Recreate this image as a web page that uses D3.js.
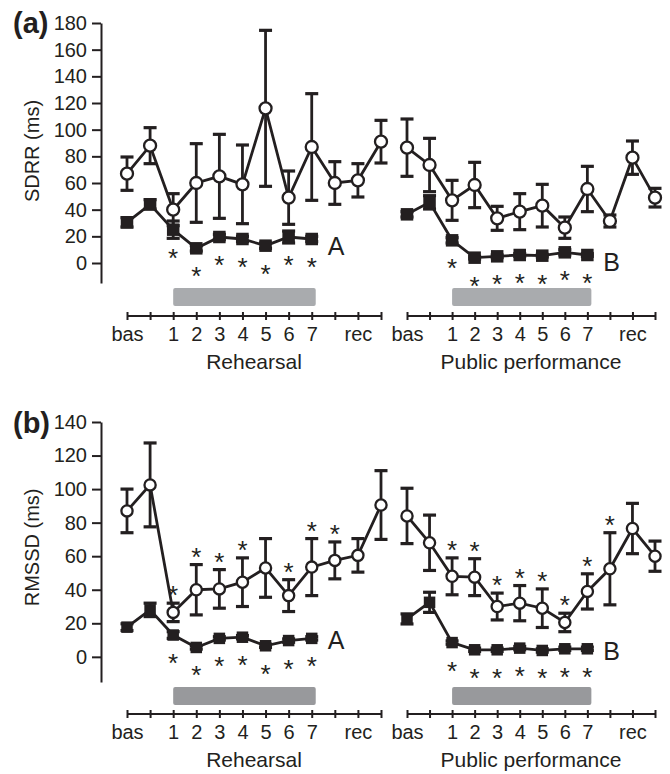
<!DOCTYPE html>
<html>
<head>
<meta charset="utf-8">
<script src="https://cdn.jsdelivr.net/npm/d3@7"></script>
<style>
  body { margin: 0; background: #fff; }
  svg text { font-family: "Liberation Sans", Arial, Helvetica, sans-serif; fill: #231f20; }
</style>
</head>
<body>
<div id="chart"></div>
<script>
'use strict';

// x tick labels (same for both sessions)
var tickLabels = ['bas', '', '1', '2', '3', '4', '5', '6', '7', '', 'rec', ''];
var sessionNames = ['Rehearsal', 'Public performance'];

// SDRR (ms) - open circles (12 points) and filled squares (9 points)
var sdrrRehOpen = [67, 88, 40, 60, 65, 59, 116, 49, 87, 60, 62, 91];
var sdrrRehOpenErr = [12.5, 13.5, 12, 29.5, 31.5, 29.5, 58.5, 20, 40, 16, 12.5, 16];
var sdrrRehFilled = [30.5, 44, 25, 11, 19.5, 18, 13, 19.5, 18];
var sdrrRehFilledErr = [3.5, 3.5, 6.5, 2, 2, 2, 2, 4.5, 2];
var sdrrPubOpen = [86.5, 73.5, 47, 58.5, 33.5, 38.5, 43, 26.5, 55.5, 31.5, 79, 49];
var sdrrPubOpenErr = [21.5, 20, 15, 17, 9, 13.5, 16, 8, 17, 4.5, 12.5, 7];
var sdrrPubFilled = [36.5, 45.5, 17, 4, 5, 6, 5.5, 8, 6];
var sdrrPubFilledErr = [2, 5, 2, 1, 1, 1, 1, 2, 1];

// RMSSD (ms)
var rmssdRehOpen = [87, 102.5, 26.5, 40, 40.5, 44.5, 53, 36.5, 53.5, 57.5, 60.5, 90.5];
var rmssdRehOpenErr = [13, 25, 5.5, 15, 11.5, 14.5, 17.5, 9.5, 17, 11, 10, 20.5];
var rmssdRehFilled = [17.7, 28, 13, 5.6, 11, 11.7, 6.6, 9.7, 11];
var rmssdRehFilledErr = [2, 4, 2, 1, 1, 1, 1, 1, 1];
var rmssdPubOpen = [84, 68, 48, 47.5, 30, 32, 29, 20.5, 39, 52.5, 76.5, 60];
var rmssdPubOpenErr = [16.5, 16.5, 11, 11, 8, 10.5, 11.5, 5.5, 10.5, 21.5, 15, 9];
var rmssdPubFilled = [22.6, 32.5, 8.5, 4.2, 4.2, 5.2, 3.8, 4.8, 4.8];
var rmssdPubFilledErr = [3, 6, 1, 1, 1, 1, 1, 1, 1];

// indices carrying a significance star
var starsBelowFilled = [2, 3, 4, 5, 6, 7, 8];
var rmssdRehStarsAbove = [2, 3, 4, 5, 7, 8, 9];
var rmssdPubStarsAbove = [2, 3, 4, 5, 6, 7, 8, 9];

var ink = '#231f20';

var panels = [
    {
        letter: '(a)', title: 'SDRR (ms)', max: 180, tickStep: 20,
        top: 23, bottom: 283, axisY: 316, letterY: 33, labelDy: 16,
        barColor: '#a9abae', r: 6, sq: 12.5,
        sessions: [
            {open: sdrrRehOpen, openErr: sdrrRehOpenErr, filled: sdrrRehFilled, filledErr: sdrrRehFilledErr, starsAbove: [], tag: 'A'},
            {open: sdrrPubOpen, openErr: sdrrPubOpenErr, filled: sdrrPubFilled, filledErr: sdrrPubFilledErr, starsAbove: [], tag: 'B'}
        ]
    },
    {
        letter: '(b)', title: 'RMSSD (ms)', max: 140, tickStep: 20,
        top: 422, bottom: 682, axisY: 714, letterY: 433, labelDy: 11,
        barColor: '#98999c', r: 5.6, sq: 11.5,
        sessions: [
            {open: rmssdRehOpen, openErr: rmssdRehOpenErr, filled: rmssdRehFilled, filledErr: rmssdRehFilledErr, starsAbove: rmssdRehStarsAbove, tag: 'A'},
            {open: rmssdPubOpen, openErr: rmssdPubOpenErr, filled: rmssdPubFilled, filledErr: rmssdPubFilledErr, starsAbove: rmssdPubStarsAbove, tag: 'B'}
        ]
    }
];

var segRanges = [[127, 381], [407, 655]];
var yAxisX = 101;

var svg = d3.select('#chart')
    .append('svg')
    .attr('width', 670)
    .attr('height', 774);

panels.forEach(function (p) {
    var y = d3.scaleLinear().domain([-15, p.max]).range([p.bottom, p.top]);
    var g = svg.append('g');

    // y axis
    var yAxis = d3.axisLeft(y)
        .tickValues(d3.range(0, p.max + 1, p.tickStep))
        .tickSize(9)
        .tickSizeOuter(0)
        .tickPadding(5);
    var ya = g.append('g')
        .attr('transform', 'translate(' + yAxisX + ',0)')
        .call(yAxis);
    ya.selectAll('path, line').attr('stroke', ink).attr('stroke-width', 2);
    ya.selectAll('text').style('font-size', '20px').attr('fill', ink);

    g.append('text')
        .attr('transform', 'translate(39,' + ((y(0) + y(p.max)) / 2 + 8) + ') rotate(-90)')
        .attr('text-anchor', 'middle')
        .style('font-size', '20px')
        .text(p.title);

    g.append('text')
        .attr('x', 13)
        .attr('y', p.letterY)
        .style('font-size', '29px')
        .style('font-weight', 'bold')
        .text(p.letter);

    p.sessions.forEach(function (s, si) {
        var x = d3.scalePoint().domain(d3.range(tickLabels.length)).range(segRanges[si]);

        // x axis
        var xAxis = d3.axisBottom(x)
            .tickFormat(function (i) { return tickLabels[i]; })
            .tickSize(8)
            .tickSizeOuter(0)
            .tickPadding(7);
        var xa = g.append('g')
            .attr('transform', 'translate(0,' + (p.axisY - 4) + ')')
            .call(xAxis);
        xa.selectAll('path, line').attr('stroke', ink).attr('stroke-width', 2);
        xa.selectAll('text').style('font-size', '20px').attr('fill', ink);
        xa.select('.domain').attr('d', 'M' + segRanges[si][0] + ',4H' + segRanges[si][1]);

        g.append('text')
            .attr('x', (segRanges[si][0] + segRanges[si][1]) / 2)
            .attr('y', p.axisY + 53)
            .attr('text-anchor', 'middle')
            .style('font-size', '21px')
            .text(sessionNames[si]);

        // grey condition bar
        g.append('rect')
            .attr('x', x(2))
            .attr('y', p.bottom + 5)
            .attr('width', x(8) - x(2) + 4)
            .attr('height', 18)
            .attr('rx', 2)
            .attr('fill', p.barColor);

        var openPts = s.open.map(function (v, i) { return {i: i, v: v, e: s.openErr[i]}; });
        var filledPts = s.filled.map(function (v, i) { return {i: i, v: v, e: s.filledErr[i]}; });

        var line = d3.line()
            .x(function (d) { return x(d.i); })
            .y(function (d) { return y(d.v); });

        function errorBars(pts) {
            var eb = g.append('g').attr('stroke', ink);
            eb.selectAll('line.v').data(pts).enter().append('line')
                .attr('x1', function (d) { return x(d.i); })
                .attr('x2', function (d) { return x(d.i); })
                .attr('y1', function (d) { return y(d.v - d.e); })
                .attr('y2', function (d) { return y(d.v + d.e); })
                .attr('stroke-width', 2.8);
            [-1, 1].forEach(function (sign) {
                eb.selectAll('line.c' + sign).data(pts).enter().append('line')
                    .attr('x1', function (d) { return x(d.i) - 6.5; })
                    .attr('x2', function (d) { return x(d.i) + 6.5; })
                    .attr('y1', function (d) { return y(d.v + sign * d.e); })
                    .attr('y2', function (d) { return y(d.v + sign * d.e); })
                    .attr('stroke-width', 3.2);
            });
        }

        errorBars(openPts);
        errorBars(filledPts);

        g.append('path').datum(openPts)
            .attr('d', line)
            .attr('fill', 'none')
            .attr('stroke', ink)
            .attr('stroke-width', 2.8);
        g.append('path').datum(filledPts)
            .attr('d', line)
            .attr('fill', 'none')
            .attr('stroke', ink)
            .attr('stroke-width', 2.8);

        g.selectAll(null).data(openPts).enter().append('circle')
            .attr('cx', function (d) { return x(d.i); })
            .attr('cy', function (d) { return y(d.v); })
            .attr('r', p.r)
            .attr('fill', '#fff')
            .attr('stroke', ink)
            .attr('stroke-width', 2.3);

        g.selectAll(null).data(filledPts).enter().append('rect')
            .attr('x', function (d) { return x(d.i) - p.sq / 2; })
            .attr('y', function (d) { return y(d.v) - p.sq / 2; })
            .attr('width', p.sq)
            .attr('height', p.sq)
            .attr('fill', ink);

        // stars below filled series
        g.selectAll(null).data(starsBelowFilled).enter().append('text')
            .attr('x', function (i) { return x(i); })
            .attr('y', function (i) { return y(s.filled[i]) + 37; })
            .attr('text-anchor', 'middle')
            .style('font-size', '26px')
            .text('*');

        // stars above open series
        g.selectAll(null).data(s.starsAbove).enter().append('text')
            .attr('x', function (i) { return x(i); })
            .attr('y', function (i) { return y(s.open[i] + s.openErr[i]) + 1; })
            .attr('text-anchor', 'middle')
            .style('font-size', '26px')
            .text('*');

        // A / B tags
        var last = s.filled.length - 1;
        g.append('text')
            .attr('x', x(last) + 16)
            .attr('y', y(s.filled[last]) + p.labelDy)
            .style('font-size', '25px')
            .text(s.tag);
    });
});
</script>
</body>
</html>
